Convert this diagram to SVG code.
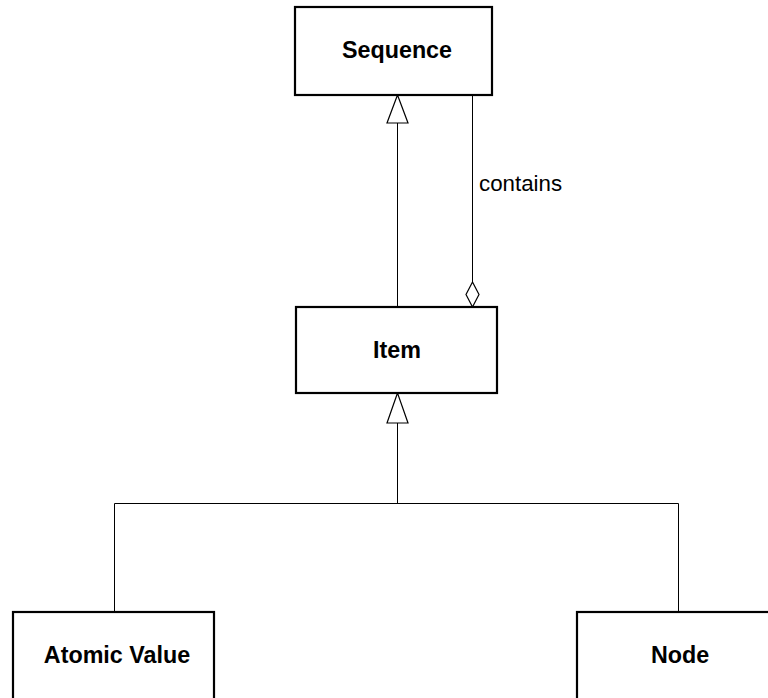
<svg xmlns="http://www.w3.org/2000/svg" width="768" height="698" viewBox="0 0 768 698">
  <style>
    .box { fill: #ffffff; stroke: #000000; stroke-width: 2.2; }
    .name { font-family: "Liberation Sans", Arial, sans-serif; font-weight: bold; font-size: 23.3px; text-anchor: middle; fill: #000000; }
    .label { font-family: "Liberation Sans", Arial, sans-serif; font-size: 22.3px; fill: #000000; }
    .edge { fill: none; stroke: #000000; stroke-width: 1; }
    .head { fill: #ffffff; stroke: #000000; stroke-width: 1.2; }
  </style>
  <rect width="768" height="698" fill="#ffffff"/>

  <g id="connectors">
    <!-- Item generalizes to Sequence -->
    <line class="edge" x1="397.5" y1="307" x2="397.5" y2="123"/>
    <polygon class="head" points="397.5,95 387,123 408,123"/>
    <!-- Sequence contains Item (aggregation) -->
    <line class="edge" x1="472.5" y1="95" x2="472.5" y2="282"/>
    <polygon class="head" points="472.5,282 479,294.5 472.5,307 466,294.5"/>
    <text class="label" x="479" y="191">contains</text>
    <!-- Atomic Value and Node generalize to Item -->
    <polyline class="edge" points="114.5,612 114.5,503.5 678.5,503.5 678.5,612"/>
    <line class="edge" x1="397.5" y1="503.5" x2="397.5" y2="423"/>
    <polygon class="head" points="397.5,393 387,423 408,423"/>
  </g>

  <g id="sequence">
    <rect class="box" x="295" y="7" width="197" height="88"/>
    <text class="name" x="397" y="57.5">Sequence</text>
  </g>

  <g id="item">
    <rect class="box" x="296" y="307" width="201" height="86"/>
    <text class="name" x="397" y="358">Item</text>
  </g>

  <g id="atomic-value">
    <rect class="box" x="13" y="612" width="201" height="100"/>
    <text class="name" x="117" y="663">Atomic Value</text>
  </g>

  <g id="node">
    <rect class="box" x="577" y="612" width="201" height="100"/>
    <text class="name" x="680" y="663">Node</text>
  </g>
</svg>
